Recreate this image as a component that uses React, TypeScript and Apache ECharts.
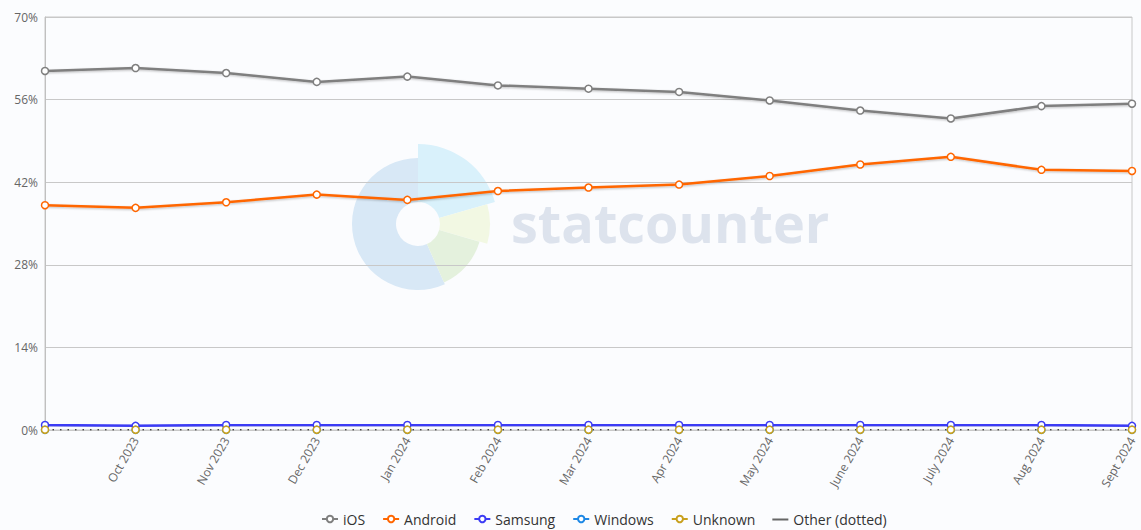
import React, { useEffect, useRef } from "react";
import * as echarts from "echarts";

const categories = [
  "Sept 2023", "Oct 2023", "Nov 2023", "Dec 2023", "Jan 2024", "Feb 2024", "Mar 2024",
  "Apr 2024", "May 2024", "June 2024", "July 2024", "Aug 2024", "Sept 2024",
];
const iosValues = [60.85, 61.35, 60.5, 59.0, 59.9, 58.4, 57.85, 57.3, 55.85, 54.15, 52.8, 54.9, 55.3];
const androidValues = [38.1, 37.65, 38.6, 39.9, 39.0, 40.5, 41.1, 41.6, 43.05, 45.0, 46.3, 44.1, 43.9];
const samsungValues = [0.85, 0.7, 0.85, 0.85, 0.85, 0.85, 0.85, 0.85, 0.85, 0.85, 0.85, 0.85, 0.7];
const windowsValues = [0.02, 0.02, 0.02, 0.02, 0.02, 0.02, 0.02, 0.02, 0.02, 0.02, 0.02, 0.02, 0.02];
const unknownValues = [0.05, 0.05, 0.05, 0.05, 0.05, 0.05, 0.05, 0.05, 0.05, 0.05, 0.05, 0.05, 0.05];
const otherValues = [0.05, 0.05, 0.05, 0.05, 0.05, 0.05, 0.05, 0.05, 0.05, 0.05, 0.05, 0.05, 0.05];
const yTicks = { min: 0, max: 70, interval: 14 };

const FONT = "'Open Sans', sans-serif";

function mkSeries(name: string, data: number[], color: string, width = 2.5) {
  return {
    name,
    type: "line",
    data,
    symbol: "circle",
    symbolSize: 7,
    showSymbol: true,
    itemStyle: { color: "#ffffff", borderColor: color, borderWidth: 1.5 },
    lineStyle: {
      color,
      width,
      shadowColor: "rgba(0,0,0,0.25)",
      shadowBlur: 2,
      shadowOffsetY: 1,
      shadowOffsetX: 1,
    },
    emphasis: { disabled: true },
  };
}

export default function App() {
  const ref = useRef<HTMLDivElement>(null);
  useEffect(() => {
    document.body.style.margin = "0";
    const chart = echarts.init(ref.current!, null, { renderer: "svg" });
    const cx = 418, cy = 224;
    const deg = (d: number) => (d * Math.PI) / 180;
    chart.setOption({
      animation: false,
      backgroundColor: "#fbfcfe",
      textStyle: { fontFamily: FONT },
      graphic: [
        { type: "sector", z: -1, silent: true, shape: { cx, cy, r0: 22, r: 66, startAngle: deg(66), endAngle: deg(270) }, style: { fill: "#d8e8f6" } },
        { type: "sector", z: -1, silent: true, shape: { cx, cy, r0: 22, r: 80, startAngle: deg(-90), endAngle: deg(-16) }, style: { fill: "#d9f1fb" } },
        { type: "sector", z: -1, silent: true, shape: { cx, cy, r0: 22, r: 72, startAngle: deg(-16), endAngle: deg(16) }, style: { fill: "#f2f8e3" } },
        { type: "sector", z: -1, silent: true, shape: { cx, cy, r0: 22, r: 64, startAngle: deg(16), endAngle: deg(66) }, style: { fill: "#e4f1dd" } },
        {
          type: "text", z: -1, silent: true, x: 511, y: 195,
          style: { text: "statcounter", fill: "#dde3ed", font: "bold 54px 'Open Sans', sans-serif" },
        },
      ],
      grid: {
        left: 45, right: 9, top: 17, bottom: 100,
        show: true, borderColor: "#c8c8c8", borderWidth: 1,
      },
      legend: {
        top: 507,
        left: 316,
        itemWidth: 16,
        itemHeight: 8,
        itemGap: 17,
        textStyle: { fontSize: 14, color: "#333", fontFamily: FONT },
        data: [
          { name: "iOS" },
          { name: "Android" },
          { name: "Samsung" },
          { name: "Windows" },
          { name: "Unknown" },
          {
            name: "Other (dotted)",
            icon: "path://M0 3.6H16V5.4H0Z M0 0H0.01V8H0Z",
            itemStyle: { color: "#666", borderWidth: 0 },
          },
        ],
      },
      xAxis: {
        type: "category",
        data: categories,
        boundaryGap: false,
        axisLine: { show: false },
        axisTick: { show: false },
        axisLabel: {
          interval: 0,
          rotate: 60,
          color: "#666",
          fontSize: 12,
          fontFamily: FONT,
          margin: 8,
          formatter: (v: string, i: number) => (i === 0 ? "" : v),
        },
      },
      yAxis: {
        type: "value",
        min: yTicks.min,
        max: yTicks.max,
        interval: yTicks.interval,
        axisLine: { show: true, lineStyle: { color: "#c0c0c0" } },
        axisTick: { show: false },
        splitLine: { lineStyle: { color: "#c8c8c8" } },
        axisLabel: { formatter: "{value}%", color: "#666", fontSize: 12, fontFamily: FONT, margin: 7 },
      },
      series: [
        mkSeries("iOS", iosValues, "#7f7f7f"),
        mkSeries("Android", androidValues, "#ff6600"),
        mkSeries("Samsung", samsungValues, "#3b3bf5"),
        mkSeries("Windows", windowsValues, "#1e88e5"),
        mkSeries("Unknown", unknownValues, "#c8a01e", 3),
        {
          name: "Other (dotted)",
          type: "line",
          data: otherValues,
          showSymbol: false,
          symbol: "none",
          lineStyle: { color: "#444", width: 1.5, type: [1.5, 6] },
          itemStyle: { color: "#666" },
          emphasis: { disabled: true },
        },
      ],
    });
    return () => chart.dispose();
  }, []);
  return <div ref={ref} style={{ position: "absolute", left: 0, top: 0, width: 1141, height: 530 }} />;
}
